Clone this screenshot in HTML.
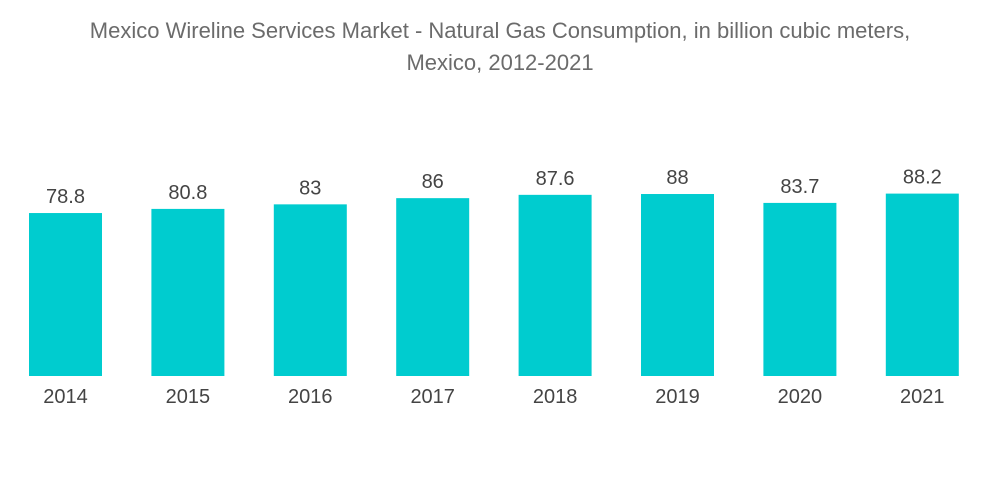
<!DOCTYPE html>
<html><head><meta charset="utf-8"><style>
body{margin:0;background:#fff;}
svg{display:block;font-family:"Liberation Sans",sans-serif;}
</style></head><body>
<svg id="chart" width="1000" height="504">
<text x="500" y="38" text-anchor="middle" font-size="22" fill="#6b6b6b">Mexico Wireline Services Market - Natural Gas Consumption, in billion cubic meters,</text>
<text x="500" y="70" text-anchor="middle" font-size="22" fill="#6b6b6b">Mexico, 2012-2021</text>
<g id="bars"></g>
</svg>
<script>
const categories=["2014","2015","2016","2017","2018","2019","2020","2021"];
const values=[78.8,80.8,83,86,87.6,88,83.7,88.2];
const labels=["78.8","80.8","83","86","87.6","88","83.7","88.2"];
const NS="http://www.w3.org/2000/svg";
const g=document.getElementById("bars");
const baseY=376, k=2.068, x0=29, step=122.4, bw=73;
function xScale(i){return x0+i*step;}
function yScale(v){return baseY-v*k;}
categories.forEach((c,i)=>{
  const x=xScale(i), y=yScale(values[i]);
  const r=document.createElementNS(NS,"rect");
  r.setAttribute("x",x);r.setAttribute("y",y);r.setAttribute("width",bw);r.setAttribute("height",baseY-y);r.setAttribute("fill","#00cccf");
  
  
  g.appendChild(r);
  const t=document.createElementNS(NS,"text");
  t.setAttribute("x",x+bw/2);t.setAttribute("y",y-10);t.setAttribute("text-anchor","middle");t.setAttribute("font-size","20");t.setAttribute("fill","#444");
  t.textContent=labels[i];
  
  
  g.appendChild(t);
  const a=document.createElementNS(NS,"text");
  a.setAttribute("x",x+bw/2);a.setAttribute("y",403);a.setAttribute("text-anchor","middle");a.setAttribute("font-size","20");a.setAttribute("fill","#444");
  a.textContent=c;
  
  
  g.appendChild(a);
});
</script>
</body></html>
